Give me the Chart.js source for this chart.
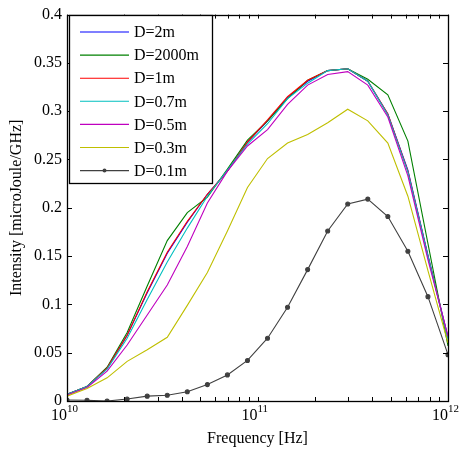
<!DOCTYPE html>
<html>
<head>
<meta charset="utf-8">
<script src="https://cdn.jsdelivr.net/npm/chart.js@4/dist/chart.umd.min.js"></script>
<style>
  html, body { margin: 0; padding: 0; background: #fff; }
  #contenedor { width: 461px; height: 451px; }
</style>
</head>
<body>
<div id="contenedor"><canvas id="grafico"></canvas></div>
<script>
// frecuencias [Hz] (20 puntos log entre 1e10 y 1e12)
var frecuencias = [1e10, 1.274e10, 1.624e10, 2.069e10, 2.637e10, 3.360e10, 4.281e10, 5.456e10, 6.952e10, 8.859e10,
                   1.129e11, 1.438e11, 1.833e11, 2.336e11, 2.976e11, 3.793e11, 4.833e11, 6.158e11, 7.848e11, 1e12];

var etiquetas = ['D=2m', 'D=2000m', 'D=1m', 'D=0.7m', 'D=0.5m', 'D=0.3m', 'D=0.1m'];
var colores = ['#0000ff', '#008000', '#ff0000', '#00bfbf', '#bf00bf', '#bfbf00', '#404040'];

var d2m    = [0.007, 0.015, 0.034, 0.068, 0.112, 0.153, 0.185, 0.214, 0.238, 0.268, 0.290, 0.314, 0.331, 0.342, 0.344, 0.331, 0.297, 0.239, 0.151, 0.066];
var d2000m = [0.007, 0.015, 0.035, 0.071, 0.119, 0.166, 0.195, 0.211, 0.240, 0.270, 0.290, 0.313, 0.332, 0.342, 0.344, 0.333, 0.317, 0.269, 0.163, 0.057];
var d1m    = [0.007, 0.015, 0.034, 0.068, 0.113, 0.154, 0.186, 0.214, 0.238, 0.268, 0.291, 0.315, 0.332, 0.342, 0.344, 0.331, 0.297, 0.238, 0.150, 0.065];
var d07m   = [0.007, 0.015, 0.033, 0.065, 0.105, 0.144, 0.179, 0.212, 0.239, 0.266, 0.287, 0.313, 0.329, 0.342, 0.344, 0.331, 0.296, 0.237, 0.150, 0.064];
var d05m   = [0.006, 0.014, 0.031, 0.058, 0.089, 0.120, 0.160, 0.205, 0.238, 0.264, 0.281, 0.307, 0.327, 0.338, 0.341, 0.327, 0.294, 0.233, 0.146, 0.067];
var d03m   = [0.005, 0.013, 0.024, 0.041, 0.053, 0.066, 0.099, 0.133, 0.176, 0.221, 0.251, 0.267, 0.276, 0.288, 0.302, 0.290, 0.267, 0.212, 0.135, 0.060];
var d01m   = [0.001, 0.0007, 0.0, 0.002, 0.005, 0.006, 0.0096, 0.017, 0.027, 0.042, 0.065, 0.097, 0.136, 0.176, 0.204, 0.209, 0.191, 0.155, 0.108, 0.048];

var series = [d2m, d2000m, d1m, d07m, d05m, d03m, d01m];

var yTicks = [0, 0.05, 0.1, 0.15, 0.2, 0.25, 0.3, 0.35, 0.4];

var FUENTE = '"Liberation Serif", "Times New Roman", serif';

function puntos(valores) {
    var out = [];
    for (var i = 0; i < frecuencias.length; i++) {
        out.push({x: frecuencias[i], y: valores[i]});
    }
    return out;
}

var datasets = [];
for (var s = 0; s < series.length; s++) {
    var esPunto = (s === series.length - 1);
    datasets.push({
        label: etiquetas[s],
        data: puntos(series[s]),
        borderColor: colores[s],
        backgroundColor: colores[s],
        borderWidth: 1.1,
        pointRadius: esPunto ? 2 : 0,
        pointHoverRadius: 0,
        tension: 0,
        order: series.length - s   // las ultimas encima, como en matlab
    });
}

// marco, ticks hacia adentro, etiquetas 10^n, titulos y leyenda
var marcoPlugin = {
    id: 'marco',
    afterDraw: function (chart) {
        var ctx = chart.ctx;
        var a = chart.chartArea;
        var xs = chart.scales.x;
        var ys = chart.scales.y;
        ctx.save();
        ctx.strokeStyle = '#000';
        ctx.lineWidth = 1;

        ctx.beginPath();
        // ticks x (log)
        for (var e = 10; e <= 12; e++) {
            for (var m = 1; m <= 9; m++) {
                var v = m * Math.pow(10, e);
                if (v > 1e12) break;
                var px = Math.round(xs.getPixelForValue(v)) + 0.5;
                ctx.moveTo(px, a.bottom);
                ctx.lineTo(px, a.bottom - 4);
                ctx.moveTo(px, a.top);
                ctx.lineTo(px, a.top + 4);
            }
        }
        // ticks y
        for (var t = 0; t < yTicks.length; t++) {
            var py = Math.round(ys.getPixelForValue(yTicks[t])) + 0.5;
            ctx.moveTo(a.left, py);
            ctx.lineTo(a.left + 5, py);
            ctx.moveTo(a.right, py);
            ctx.lineTo(a.right - 5, py);
        }
        ctx.stroke();

        ctx.lineWidth = 1.3;
        ctx.strokeRect(Math.round(a.left) + 0.5, Math.round(a.top) + 0.5,
                       Math.round(a.right - a.left), Math.round(a.bottom - a.top));

        // etiquetas 10^n
        ctx.fillStyle = '#000';
        ctx.textBaseline = 'alphabetic';
        for (var n = 10; n <= 12; n++) {
            var lx = xs.getPixelForValue(Math.pow(10, n));
            ctx.font = '16px ' + FUENTE;
            ctx.textAlign = 'right';
            ctx.fillText('10', lx, 420);
            ctx.font = '11px ' + FUENTE;
            ctx.textAlign = 'left';
            ctx.fillText(String(n), lx, 412);
        }

        // titulos
        ctx.font = '16px ' + FUENTE;
        ctx.textAlign = 'center';
        ctx.textBaseline = 'middle';
        ctx.fillText('Frequency [Hz]', (a.left + a.right) / 2, 439);
        ctx.save();
        ctx.translate(17, (a.top + a.bottom) / 2);
        ctx.rotate(-Math.PI / 2);
        ctx.fillText('Intensity [microJoule/GHz]', 0, 0);
        ctx.restore();

        // leyenda
        var lx0 = 69.5, ly0 = 15.5, lw = 143, lh = 168;
        ctx.fillStyle = '#fff';
        ctx.fillRect(lx0, ly0, lw, lh);
        ctx.strokeStyle = '#000';
        ctx.lineWidth = 1.3;
        ctx.strokeRect(lx0, ly0, lw, lh);
        ctx.textAlign = 'left';
        ctx.textBaseline = 'middle';
        for (var i = 0; i < datasets.length; i++) {
            var yy = 32 + i * 23.1;
            ctx.strokeStyle = datasets[i].borderColor;
            ctx.lineWidth = 1.1;
            ctx.beginPath();
            ctx.moveTo(80, yy);
            ctx.lineTo(129, yy);
            ctx.stroke();
            if (datasets[i].pointRadius > 0) {
                ctx.fillStyle = datasets[i].borderColor;
                ctx.beginPath();
                ctx.arc(104.5, yy, 2, 0, Math.PI * 2);
                ctx.fill();
            }
            ctx.fillStyle = '#000';
            ctx.font = '16px ' + FUENTE;
            ctx.fillText(datasets[i].label, 134, yy + 1);
        }
        ctx.restore();
    }
};

var ctx = document.getElementById('grafico').getContext('2d');
var chart = new Chart(ctx, {
    type: 'line',
    data: { datasets: datasets },
    options: {
        responsive: true,
        maintainAspectRatio: false,
        animation: false,
        events: [],
        layout: { padding: { top: 13, right: 13, left: 0, bottom: 0 } },
        plugins: {
            legend: { display: false },
            tooltip: { enabled: false }
        },
        scales: {
            x: {
                type: 'logarithmic',
                min: 1e10,
                max: 1e12,
                grid: { display: false },
                border: { display: false },
                ticks: { display: false },
                afterFit: function (scale) { scale.height = 50; }
            },
            y: {
                min: 0,
                max: 0.4,
                grid: { display: false, drawTicks: false },
                border: { display: false },
                ticks: {
                    stepSize: 0.05,
                    padding: 5,
                    color: '#000',
                    font: { family: FUENTE, size: 16 },
                    callback: function (v) { return String(+v.toFixed(2)); }
                },
                afterFit: function (scale) { scale.width = 67; }
            }
        }
    },
    plugins: [marcoPlugin]
});
</script>
</body>
</html>
